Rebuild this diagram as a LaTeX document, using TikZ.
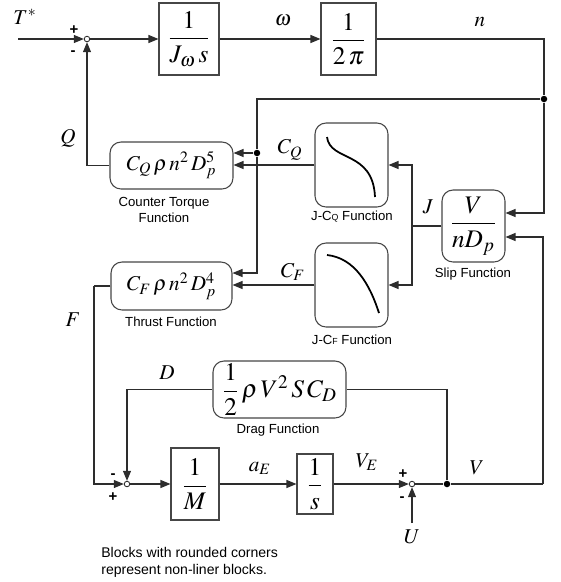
\documentclass[tikz,border=0pt]{standalone}
\usepackage{amsmath}
\usepackage{mathptmx}
\usepackage[no-math]{fontspec}
\setsansfont{Liberation Sans}
\usepackage{tikz}
\usetikzlibrary{arrows.meta, positioning}
\definecolor{lncol}{RGB}{45, 45, 45}
\definecolor{bxcol}{RGB}{70, 70, 70}

\begin{document}
\begin{tikzpicture}[x=0.02cm, y=-0.02cm, >={Triangle[length=2mm, width=1.6mm]},
  sig/.style={draw=lncol, line width=0.6pt},
  blk/.style={draw=bxcol, line width=0.6pt, fill=white, inner sep=0pt, font=\Large},
  nlblk/.style={blk, rounded corners=2.2mm},
  sumpt/.style={circle, draw=lncol, fill=white, line width=0.5pt, inner sep=0pt, minimum size=1.1mm},
  dotpt/.style={circle, fill=black, inner sep=0pt, minimum size=1.3mm},
  lbl/.style={font=\large, inner sep=0pt},
  blkcap/.style={font=\sffamily\fontsize{7.5}{9}\selectfont, align=center, inner sep=0pt},
  sgn/.style={font=\sffamily\bfseries\fontsize{8.5}{8.5}\selectfont, inner sep=0pt}]

  \useasboundingbox (0,0) rectangle (561,582);

  % --- forward path: torque to shaft speed ---
  \coordinate (tin) at (18,39);
  \node[sumpt] (s1) at (87,39) {};
  \node[blk, minimum width=1.2cm, minimum height=1.44cm] (jw) at (189,39)
    {$\dfrac{1}{J_\omega\, s}$};
  \node[blk, minimum width=1.1cm, minimum height=1.44cm] (tp) at (348.5,39)
    {$\dfrac{1}{2\,\pi}$};
  \node[dotpt] (dn) at (544,99) {};
  \node[dotpt] (dq) at (257,153) {};

  % --- propeller blocks (non-linear) ---
  \node[nlblk, font=\large, minimum width=2.46cm, minimum height=0.94cm] (cq) at (171.5,165.5)
    {$C_Q\,\rho\, n^2\, D_p^5$};
  \node[nlblk, font=\large, minimum width=2.42cm, minimum height=0.96cm] (cf) at (171.5,286)
    {$C_F\,\rho\, n^2\, D_p^4$};
  \node[nlblk, minimum width=1.46cm, minimum height=1.68cm] (jcq) at (351.5,165) {};
  \node[nlblk, minimum width=1.46cm, minimum height=1.68cm] (jcf) at (351.5,285) {};
  \node[nlblk, minimum width=1.26cm, minimum height=1.44cm] (slip) at (473.5,226)
    {$\dfrac{V}{nD_p}$};
  \coordinate (jsplit) at (412,226);

  % --- curves in the J-C blocks ---
  \draw[line width=1pt] (327,137) .. controls (330,162) and (373,150) .. (375,197);
  \draw[line width=1pt] (327,255) .. controls (355,258) and (370,285) .. (379,313);

  % --- vehicle dynamics ---
  \node[nlblk, minimum width=2.66cm, minimum height=1.14cm] (drag) at (279.5,389.5)
    {$\dfrac{1}{2}\,\rho\, V^2\, S\, C_D$};
  \coordinate (fbend) at (94,286);
  \node[sumpt] (s2) at (127,484) {};
  \node[blk, minimum width=0.96cm, minimum height=1.44cm] (mass) at (195,484)
    {$\dfrac{1}{M}$};
  \node[blk, minimum width=0.72cm, minimum height=1.2cm] (integ) at (315,484)
    {$\dfrac{1}{s}$};
  \node[sumpt] (s3) at (412,484) {};
  \node[dotpt] (dv) at (447,484) {};
  \coordinate (vbend) at (543,484);
  \coordinate (uin) at (412,523);

  % --- connectors ---
  \draw[sig, ->] (tin) -- (s1);
  \draw[sig, ->] (s1) -- (jw);
  \draw[sig, ->] (jw) -- (tp);
  \draw[sig] (tp) -| (dn);
  \draw[sig, ->] (dn) |- ([yshift=0.26cm]slip.east);
  \draw[sig] (dn) -| (dq);
  \draw[sig, ->] (dq) -- (dq -| cq.east);
  \draw[sig, ->] (dq) |- ([yshift=0.26cm]cf.east);
  \draw[sig, ->] (jcq.west) -- (jcq.west -| cq.east);
  \draw[sig, ->] (jcf.west) -- (jcf.west -| cf.east);
  \draw[sig] (slip.west) -- (jsplit);
  \draw[sig, ->] (jsplit) |- (jcq.east);
  \draw[sig, ->] (jsplit) |- (jcf.east);
  \draw[sig, ->] (cq.west) -| (s1.south);
  \draw[sig] (cf.west) -- (fbend);
  \draw[sig, ->] (fbend) |- (s2.west);
  \draw[sig, ->] (s2) -- (mass);
  \draw[sig, ->] (mass) -- (integ);
  \draw[sig, ->] (integ) -- (s3);
  \draw[sig] (s3) -- (dv);
  \draw[sig] (dv) -- (vbend);
  \draw[sig, ->] (vbend) |- ([yshift=-0.22cm]slip.east);
  \draw[sig] (dv) |- (drag.east);
  \draw[sig, ->] (drag.west) -| (s2.north);
  \draw[sig, ->] (uin) -- (s3.south);

  % --- signal labels ---
  \node[lbl] (ltq) at (25,17) {$T^*$};
  \node[lbl] (lom) at (283,20) {$\omega$};
  \node[lbl] (ln) at (480,22) {$n$};
  \node[lbl] (lq) at (68,138) {$Q$};
  \node[lbl] (lcq) at (290,150) {$C_Q$};
  \node[lbl] (lcf) at (293,272) {$C_F$};
  \node[lbl] (lj) at (428,207) {$J$};
  \node[lbl] (lf) at (73,320) {$F$};
  \node[lbl] (ld) at (167,373) {$D$};
  \node[lbl] (lae) at (260,468) {$a_E$};
  \node[lbl] (lve) at (367,462) {$V_E$};
  \node[lbl] (lv) at (477,468) {$V$};
  \node[lbl] (lu) at (412,537) {$U$};

  % --- signs at the junctions ---
  \node[sgn] (p1) at (74,30) {+};
  \node[sgn] (m1) at (73,53) {-};
  \node[sgn] (m2) at (113,476) {-};
  \node[sgn] (p2) at (113,497) {+};
  \node[sgn] (p3) at (403,474) {+};
  \node[sgn] (m3) at (402,499) {-};

  % --- block captions ---
  \node[blkcap] (ccq) at (164,210) {Counter Torque\\Function};
  \node[blkcap] (ccf) at (171,322) {Thrust Function};
  \node[blkcap] (cjq) at (352,217) {J-C{\fontsize{5}{5}\selectfont Q} Function};
  \node[blkcap] (cjf) at (352,340) {J-C{\fontsize{5}{5}\selectfont F} Function};
  \node[blkcap] (cslip) at (473,274) {Slip Function};
  \node[blkcap] (cdrag) at (278,430) {Drag Function};
  \node[anchor=north west, align=left, inner sep=0pt,
    font=\sffamily\fontsize{8}{9.7}\selectfont] (note) at (101,547)
    {Blocks with rounded corners\\represent non-liner blocks.};

\end{tikzpicture}
\end{document}
